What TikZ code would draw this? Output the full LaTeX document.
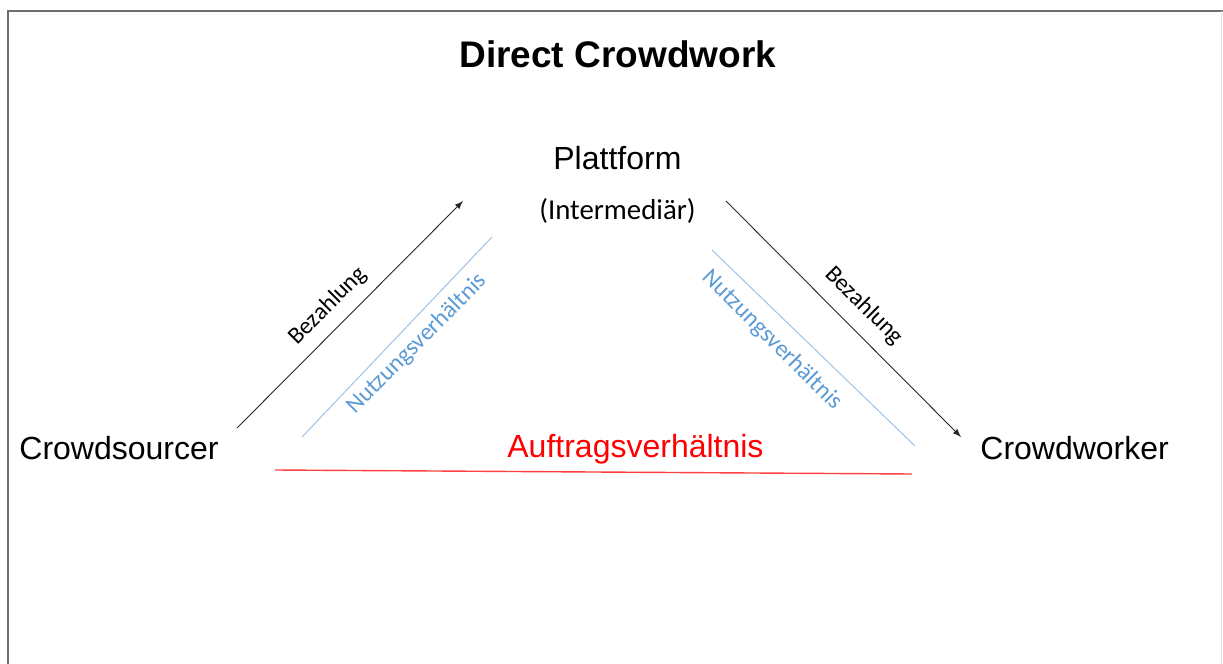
\documentclass[tikz,border=0pt]{standalone}
\usepackage{fontspec}
\setmainfont{Liberation Sans}
\newfontfamily\carlito{Carlito}
\usepackage{tikz}
\usetikzlibrary{arrows,calc,positioning}
\usepackage{xcolor}
\definecolor{nutzblau}{RGB}{91,155,213}
\definecolor{nutzlinie}{RGB}{157,195,230}
\definecolor{rahmengrau}{RGB}{110,110,110}
\tikzset{
        partei/.style = {inner sep=0pt,
            font=\fontsize{16pt}{19pt}\selectfont},
        kopf/.style = {inner sep=0pt,
            font=\fontsize{18.5pt}{22pt}\selectfont\bfseries},
        zusatz/.style = {inner sep=0pt,
            font=\carlito\fontsize{14.4pt}{17pt}\selectfont},
        schraeg/.style = {inner sep=0pt,
            font=\carlito\fontsize{12pt}{14pt}\selectfont},
        zahlung/.style = {draw, -latex, line width=0.45pt, black!85},
        nutzung/.style = {draw, nutzlinie, line width=0.5pt},
        auftrag/.style = {draw, red!75, line width=0.7pt},
    }

\begin{document}
\begin{tikzpicture}[x=0.5pt,y=-0.5pt]
    \useasboundingbox (0,0) rectangle (1223,664);

    % rahmen
    \draw[rahmengrau, line width=1pt] (8,664) -- (8,11) -- (1223,11);
    \draw[black!12, line width=0.5pt] (1221.5,11) -- (1221.5,664);

    \node[kopf, anchor=base west] (titel) at (459,68) {Direct Crowdwork};

    \node[partei, anchor=base west] (plattform) at (553,169.5) {Plattform};
    \node[zusatz, anchor=base west] (intermed) at (539,219) {(Intermediär)};
    \node[partei, anchor=base west] (sourcer) at (19,459.5) {Crowdsourcer};
    \node[partei, anchor=base west] (worker) at (980,459.5) {Crowdworker};
    \node[partei, anchor=base west, text=red] (auftrag) at (507,457) {Auftragsverhältnis};

    % enden der linien
    \coordinate (zl1) at (237,428);
    \coordinate (zl2) at (463,201);
    \coordinate (zr1) at (726,201);
    \coordinate (zr2) at (961,437);
    \coordinate (nl1) at (302,437);
    \coordinate (nl2) at (492,237);
    \coordinate (nr1) at (712,250);
    \coordinate (nr2) at (915,446);
    \coordinate (al1) at (275,470);
    \coordinate (al2) at (912,474);

    \draw[zahlung] (zl1) -- (zl2);
    \draw[zahlung] (zr1) -- (zr2);
    \draw[nutzung] (nl1) -- (nl2);
    \draw[nutzung] (nr1) -- (nr2);
    \draw[auftrag] (al1) -- (al2);

    \node[schraeg, rotate=45] (bezl) at (328,306) {Bezahlung};
    \node[schraeg, rotate=-45] (bezr) at (864,306) {Bezahlung};
    \node[schraeg, rotate=45, text=nutzblau] (nutzl) at (417,344) {Nutzungsverhältnis};
    \node[schraeg, rotate=-45, text=nutzblau] (nutzr) at (772,340) {Nutzungsverhältnis};
\end{tikzpicture}
\end{document}
